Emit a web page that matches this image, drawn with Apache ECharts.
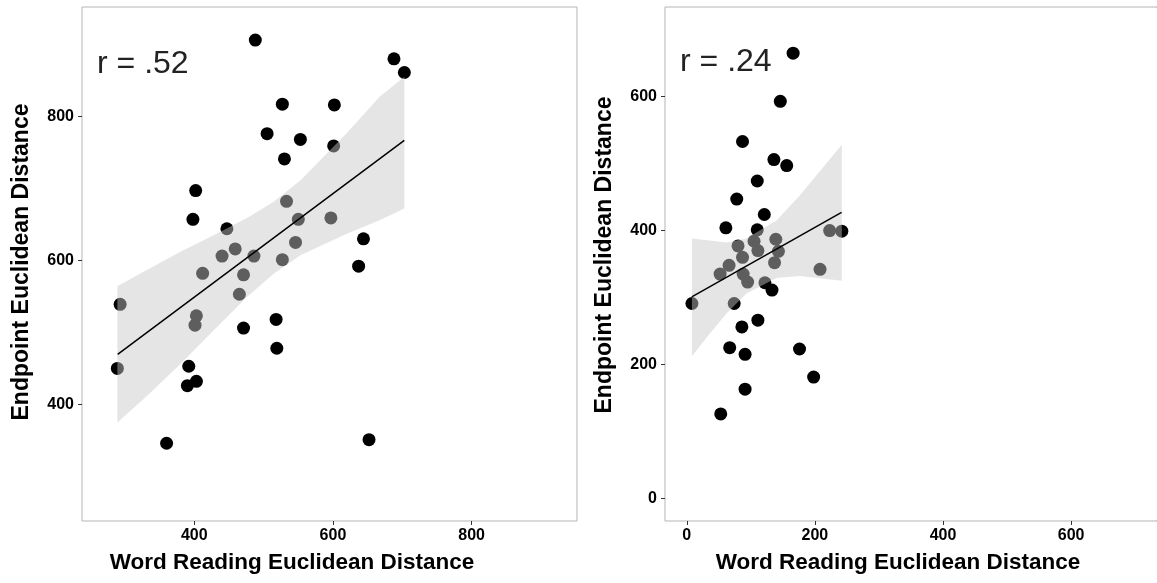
<!DOCTYPE html>
<html><head><meta charset="utf-8">
<script src="https://cdn.jsdelivr.net/npm/echarts@6/dist/echarts.min.js"></script>
<style>html,body{margin:0;padding:0;background:#fff;overflow:hidden}#c{width:1157px;height:583px}</style>
</head><body><div id="c"></div>
<script>
// Left panel: points
const leftX = [488, 688, 703, 527, 602, 505, 553, 601, 530, 402, 398, 447, 533, 550, 597, 546, 644, 459, 440, 486, 527, 637, 412, 471, 465, 293, 403, 401, 471, 518, 519, 289, 392, 390, 403, 360, 652];
const leftY = [906, 880, 861, 817, 816, 776, 768, 759, 741, 697, 657, 644, 682, 657, 659, 625, 630, 616, 606, 606, 601, 592, 582, 580, 553, 539, 523, 510, 506, 518, 478, 450, 453, 426, 432, 346, 351];
// Left panel: fit line and confidence band
const leftLineX = [289.4, 702.9];
const leftLineY = [469.4, 766.7];
const leftBandX = [289, 332, 380, 428, 476, 514, 553, 620, 668, 703];
const leftBandLo = [375, 412, 456, 503, 549, 581, 607, 637, 656, 672];
const leftBandHi = [564, 587, 612, 635, 659, 681, 711, 777, 828, 855];
// Right panel: points
const rightX = [166, 146, 87, 136, 156, 110, 78, 121, 61, 110, 242, 133, 111, 86, 67, 91, 176, 198, 91, 53, 223, 139, 105, 80, 111, 143, 87, 66, 137, 52, 88, 95, 208, 122, 8, 74];
const rightY = [665, 593, 533, 506, 497, 474, 447, 424, 404, 401, 399, 311, 266, 256, 225, 215, 223, 181, 163, 126, 400, 387, 384, 377, 370, 369, 360, 348, 352, 335, 335, 323, 342, 322, 291, 291];
// Right panel: fit line and band
const rightLineX = [7.8, 241.6];
const rightLineY = [300.8, 427];
const rightBandX = [8, 36, 62, 93, 140, 176, 242];
const rightBandLo = [212, 246, 276, 306, 329, 332, 325];
const rightBandHi = [388, 385, 382, 388, 415, 452, 528];
// Tick labels
const leftTicks = [400, 600, 800];
const rightTicks = [0, 200, 400, 600];
const rLabels = ['r = .52', 'r = .24'];
const xTitle = 'Word Reading Euclidean Distance';
const yTitle = 'Endpoint Euclidean Distance';

const FONT = '"Liberation Sans", Arial, Helvetica, sans-serif';
const chart = echarts.init(document.getElementById('c'));

function zip(a, b) { return a.map((v, i) => [v, b[i]]); }
function bandSeries(idx, bx, lo, hi) {
  return {
    type: 'custom', xAxisIndex: idx, yAxisIndex: idx, z: 3, silent: true,
    data: bx.map((x, i) => [x, lo[i], hi[i]]),
    encode: { x: 0, y: [1, 2] },
    renderItem: function (params, api) {
      if (params.dataIndex !== 0) return null;
      const pts = [];
      for (let i = 0; i < bx.length; i++) pts.push(api.coord([bx[i], hi[i]]));
      for (let i = bx.length - 1; i >= 0; i--) pts.push(api.coord([bx[i], lo[i]]));
      return { type: 'polygon', shape: { points: pts }, style: { fill: 'rgba(200,200,200,0.47)' } };
    }
  };
}
function axisCommon(ticks, min, max) {
  return {
    type: 'value', min: min, max: max,
    splitLine: { show: false },
    axisLine: { show: false, onZero: false },
    axisTick: { show: true, length: 4, lineStyle: { color: '#333', width: 1 }, customValues: ticks },
    axisLabel: { customValues: ticks, color: '#000', fontWeight: 'bold', fontSize: 16, fontFamily: FONT, margin: 8 }
  };
}
const xl = axisCommon(leftTicks, 238, 952); xl.gridIndex = 0; xl.axisLabel.margin = 7;
const yl = axisCommon(leftTicks, 238, 952); yl.gridIndex = 0;
const xr = axisCommon(rightTicks, -34, 734); xr.gridIndex = 1; xr.axisLabel.margin = 7;
const yr = axisCommon(rightTicks, -34, 734); yr.gridIndex = 1;

chart.setOption({
  animation: false,
  backgroundColor: '#fff',
  grid: [
    { left: 82, top: 7, width: 495, height: 514, show: true, borderColor: '#b5b5b5', borderWidth: 1, backgroundColor: 'transparent' },
    { left: 665, top: 7, width: 497, height: 514, show: true, borderColor: '#b5b5b5', borderWidth: 1, backgroundColor: 'transparent' }
  ],
  xAxis: [xl, xr],
  yAxis: [yl, yr],
  graphic: [
    { type: 'text', left: 97, top: 48, style: { text: rLabels[0], font: '32px ' + FONT, fill: '#222' } },
    { type: 'text', left: 680, top: 46, style: { text: rLabels[1], font: '32px ' + FONT, fill: '#222' } },
    { type: 'text', x: 292, y: 563, style: { text: xTitle, font: 'bold 22.5px ' + FONT, fill: '#000', align: 'center', verticalAlign: 'middle' } },
    { type: 'text', x: 898, y: 563, style: { text: xTitle, font: 'bold 22.5px ' + FONT, fill: '#000', align: 'center', verticalAlign: 'middle' } },
    { type: 'text', x: 22, y: 262, rotation: Math.PI / 2, style: { text: yTitle, font: 'bold 23px ' + FONT, fill: '#000', align: 'center', verticalAlign: 'middle' } },
    { type: 'text', x: 605, y: 255, rotation: Math.PI / 2, style: { text: yTitle, font: 'bold 23px ' + FONT, fill: '#000', align: 'center', verticalAlign: 'middle' } },
    { type: 'rect', left: 1156, top: 8, shape: { width: 2, height: 512 }, style: { fill: '#fff' }, z: 100 }
  ],
  series: [
    { type: 'scatter', xAxisIndex: 0, yAxisIndex: 0, z: 2, symbol: 'circle', symbolSize: 13, silent: true,
      itemStyle: { color: '#000', opacity: 1 }, data: zip(leftX, leftY) },
    bandSeries(0, leftBandX, leftBandLo, leftBandHi),
    { type: 'line', xAxisIndex: 0, yAxisIndex: 0, z: 4, symbol: 'none', silent: true,
      lineStyle: { color: '#000', width: 1.5 }, data: zip(leftLineX, leftLineY) },
    { type: 'scatter', xAxisIndex: 1, yAxisIndex: 1, z: 2, symbol: 'circle', symbolSize: 13, silent: true,
      itemStyle: { color: '#000', opacity: 1 }, data: zip(rightX, rightY) },
    bandSeries(1, rightBandX, rightBandLo, rightBandHi),
    { type: 'line', xAxisIndex: 1, yAxisIndex: 1, z: 4, symbol: 'none', silent: true,
      lineStyle: { color: '#000', width: 1.5 }, data: zip(rightLineX, rightLineY) }
  ]
});
</script></body></html>
